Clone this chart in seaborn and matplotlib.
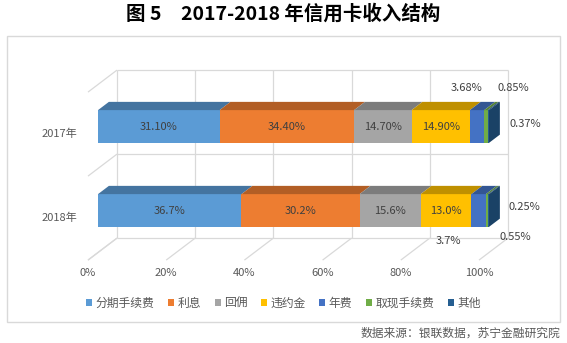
import matplotlib
matplotlib.use('Agg')
import matplotlib.pyplot as plt
from matplotlib.patches import Polygon, Rectangle, Patch
from matplotlib.colors import to_rgb
import seaborn as sns
import numpy as np
import pandas as pd

# ---------------- data ----------------
years = ['2017年', '2018年']
segments = ['分期手续费', '利息', '回佣', '违约金', '年费', '取现手续费', '其他']
values_2017 = [31.10, 34.40, 14.70, 14.90, 3.68, 0.85, 0.37]
values_2018 = [36.7, 30.2, 15.6, 13.0, 3.7, 0.55, 0.25]
labels_2017 = ['31.10%', '34.40%', '14.70%', '14.90%', '3.68%', '0.85%', '0.37%']
labels_2018 = ['36.7%', '30.2%', '15.6%', '13.0%', '3.7%', '0.55%', '0.25%']
colors = ['#5B9BD5', '#ED7D31', '#A5A5A5', '#FFC000', '#4472C4', '#70AD47', '#255E91']
x_ticks = [0, 20, 40, 60, 80, 100]
x_tick_labels = ['0%', '20%', '40%', '60%', '80%', '100%']
title = '图 5　2017-2018 年信用卡收入结构'
source = '数据来源：银联数据，苏宁金融研究院'

# ---------------- style ----------------
sns.set_theme(style='white')
plt.rcParams['font.family'] = ['Noto Sans CJK SC', 'DejaVu Sans']

W, H = 567, 343
fig = plt.figure(figsize=(W / 100, H / 100), dpi=100)
fig.patch.set_facecolor('white')

# axes = front plane of the bars
x0_px, x1_px = 98, 489
yc0_px, step_px = 126.5, 84
ax = fig.add_axes([x0_px / W, 1 - (yc0_px + 1.5 * step_px) / H,
                   (x1_px - x0_px) / W, 2 * step_px / H])
ax.set_xlim(0, 100)
ax.set_ylim(1.5, -0.5)
ax.axis('off')

# oblique depth projection (depth 0 = front of floor, 1 = back wall)
DEPTH_PX = (29.0, 22.0)
KX = DEPTH_PX[0] / ((x1_px - x0_px) / 100.0)
KY = DEPTH_PX[1] / step_px
D_FRONT, D_BACK = 0.345, 0.72


def P(v, c, d):
    dd = d - D_FRONT
    return (v + KX * dd, c - KY * dd)


grid_kw = dict(color='#D9D9D9', lw=0.9, clip_on=False, zorder=0, solid_capstyle='butt')

# back wall vertical gridlines
for t in x_ticks:
    a, b = P(t, -0.5, 1), P(t, 1.5, 1)
    ax.plot([a[0], b[0]], [a[1], b[1]], **grid_kw)
# back wall horizontal gridlines + side wall diagonals
for c in [-0.5, 0.5, 1.5]:
    a, b = P(0, c, 1), P(100, c, 1)
    ax.plot([a[0], b[0]], [a[1], b[1]], **grid_kw)
    a, b = P(0, c, 0), P(0, c, 1)
    ax.plot([a[0], b[0]], [a[1], b[1]], **grid_kw)
# floor diagonals
for t in x_ticks:
    a, b = P(t, 1.5, 0), P(t, 1.5, 1)
    ax.plot([a[0], b[0]], [a[1], b[1]], **grid_kw)

# ---------------- bars (front faces via seaborn, stacked) ----------------
rows = []
for yr, vals in zip(years, [values_2017, values_2018]):
    cum = np.cumsum(vals)
    for seg, cv in zip(segments, cum):
        rows.append(dict(year=yr, segment=seg, cum=cv))
df = pd.DataFrame(rows)

BAR_H = 0.39
for i in range(len(segments) - 1, -1, -1):
    sub = df[df['segment'] == segments[i]]
    sns.barplot(data=sub, x='cum', y='year', order=years, orient='h',
                color=colors[i], saturation=1, width=BAR_H, ax=ax,
                edgecolor='none', linewidth=0, zorder=2)
ax.set_xlim(0, 100)
ax.set_ylim(1.5, -0.5)
ax.axis('off')


def shade(col, f):
    r, g, b = to_rgb(col)
    return (r * f, g * f, b * f)


# top faces and end face
for ci, vals in enumerate([values_2017, values_2018]):
    top = ci - BAR_H / 2
    bot = ci + BAR_H / 2
    start = 0.0
    for i, v in enumerate(vals):
        end = start + v
        poly = [P(start, top, D_FRONT), P(end, top, D_FRONT),
                P(end, top, D_BACK), P(start, top, D_BACK)]
        ax.add_patch(Polygon(poly, closed=True, facecolor=shade(colors[i], 0.75),
                             edgecolor='none', clip_on=False, zorder=3))
        start = end
    poly = [P(start, top, D_FRONT), P(start, bot, D_FRONT),
            P(start, bot, D_BACK), P(start, top, D_BACK)]
    ax.add_patch(Polygon(poly, closed=True, facecolor=shade(colors[-1], 0.7),
                         edgecolor='none', clip_on=False, zorder=3))

# ---------------- data labels ----------------
lab_kw = dict(fontsize=8, color='#404040', ha='center', va='center', zorder=5)
outside_offsets = {
    0: {4: (-11, 38.5), 5: (27, 38.5), 6: (37, 2.5)},
    1: {4: (-30, -30.5), 5: (28, -26.5), 6: (36, 3.5)},
}
for ci, (vals, labs) in enumerate([(values_2017, labels_2017), (values_2018, labels_2018)]):
    start = 0.0
    for i, (v, lab) in enumerate(zip(vals, labs)):
        mid = start + v / 2
        if i < 4:
            ax.text(mid, ci, lab, **lab_kw)
        else:
            ax.annotate(lab, xy=(mid, ci), xytext=outside_offsets[ci][i],
                        textcoords='offset pixels', annotation_clip=False, **lab_kw)
        start += v

# ---------------- axis labels ----------------
tick_kw = dict(fontsize=8, color='#595959')
for t, tl in zip(x_ticks, x_tick_labels):
    ax.annotate(tl, xy=P(t, 1.5, 0), xytext=(0, -13), textcoords='offset pixels',
                ha='center', va='center', annotation_clip=False, **tick_kw)
for ci, yl in enumerate(years):
    ax.annotate(yl, xy=P(0, ci, 0), xytext=(-11, 0), textcoords='offset pixels',
                ha='right', va='center', annotation_clip=False, **tick_kw)

# ---------------- legend ----------------
handles = [Patch(facecolor=c, edgecolor='none', label=s) for c, s in zip(colors, segments)]
leg = fig.legend(handles=handles, loc='center', bbox_to_anchor=(0.5, 1 - 303 / H),
                 ncol=7, frameon=False, fontsize=8.5, handlelength=0.5, handleheight=0.5,
                 handletextpad=0.3, columnspacing=1.15, borderpad=0)
for txt in leg.get_texts():
    txt.set_color('#595959')

# ---------------- frame, title, source ----------------
fig.patches.append(Rectangle((7 / W, 1 - 322 / H), 553 / W, 286 / H, transform=fig.transFigure,
                             facecolor='none', edgecolor='#D9D9D9', lw=1.0, zorder=0))
fig.text(0.5, 1 - 14 / H, title, ha='center', va='center', fontsize=14, fontweight='bold',
         color='#000000')
fig.text(560 / W, 1 - 333 / H, source, ha='right', va='center', fontsize=8.5,
         style='italic', color='#595959')

fig.savefig('out.png', dpi=100)
